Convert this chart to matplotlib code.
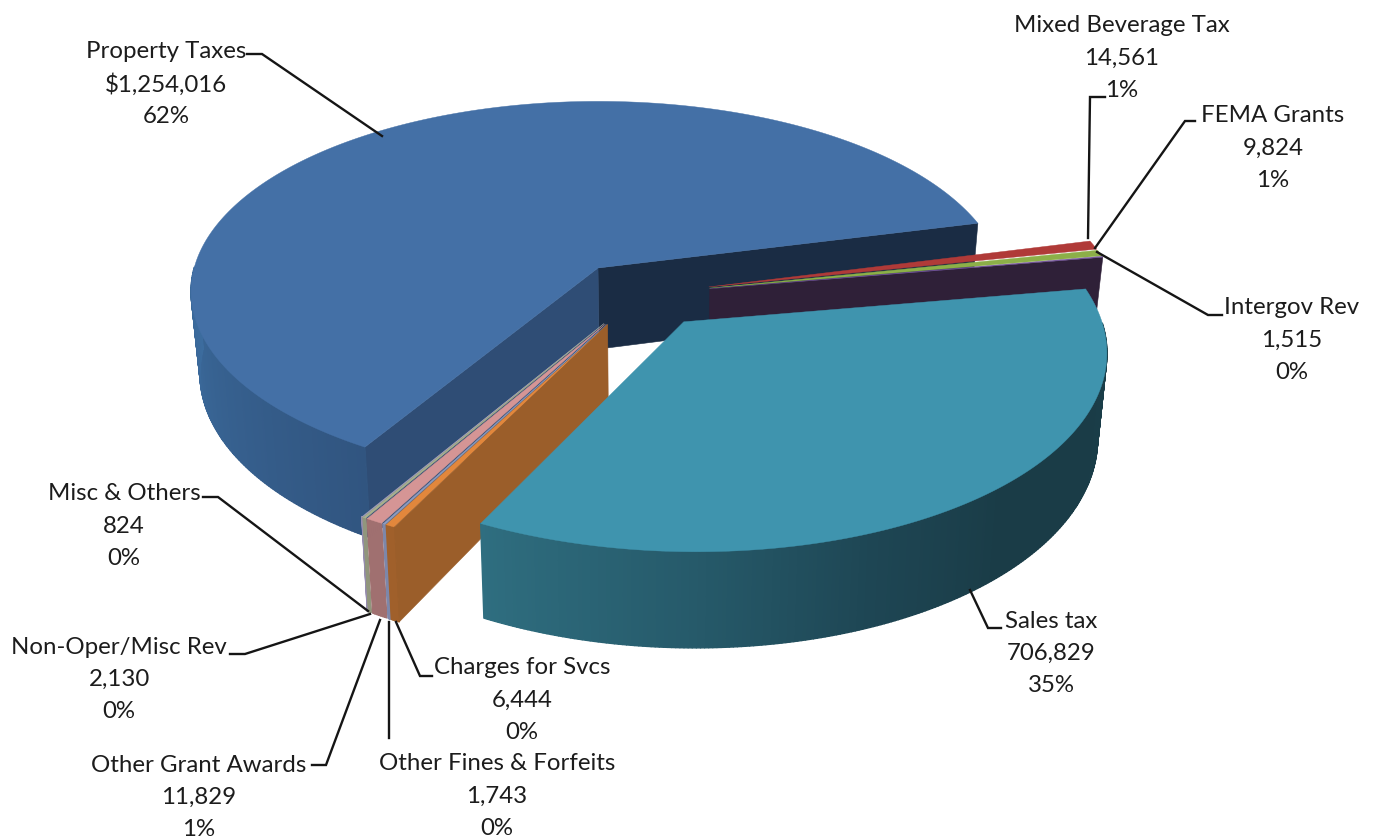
import numpy as np
import matplotlib
matplotlib.use("Agg")
import matplotlib.pyplot as plt
from matplotlib.collections import PolyCollection

plt.rcParams['font.family'] = ['Lato', 'DejaVu Sans']

# =========================
# Data
# =========================

names = ["Property Taxes", "Mixed Beverage Tax", "FEMA Grants", "Intergov Rev", "Sales tax",
         "Charges for Svcs", "Other Fines & Forfeits", "Other Grant Awards", "Non-Oper/Misc Rev", "Misc & Others"]
values = [1254016, 14561, 9824, 1515, 706829, 6444, 1743, 11829, 2130, 824]
value_labels = ["$1,254,016", "14,561", "9,824", "1,515", "706,829", "6,444", "1,743", "11,829", "2,130", "824"]
pct_labels = ["62%", "1%", "1%", "0%", "35%", "0%", "0%", "1%", "0%", "0%"]

# =========================
# Slice colours (RGB 0-255)
# =========================

top_colors = [(68, 112, 166), (176, 58, 56), (140, 175, 72), (112, 80, 150), (63, 148, 174),
              (226, 135, 60), (142, 155, 190), (213, 149, 149), (168, 176, 142), (169, 160, 192)]
# wall shade along the rim: (angle in degrees, colour)
wall_stops = [
    [(180, (60, 108, 158)), (239, (49, 85, 128))],
    [(0, (120, 40, 40)), (15, (120, 40, 40))],
    [(0, (90, 115, 50)), (15, (90, 115, 50))],
    [(0, (47, 32, 56)), (15, (47, 32, 56))],
    [(-117, (47, 110, 128)), (-90, (38, 90, 106)), (-68, (30, 70, 84)), (-48, (26, 60, 71)), (5, (26, 61, 72))],
    [(-125, (160, 96, 43)), (-110, (160, 96, 43))],
    [(-125, (125, 135, 170)), (-110, (125, 135, 170))],
    [(-125, (160, 112, 112)), (-110, (160, 112, 112))],
    [(-125, (145, 150, 125)), (-110, (145, 150, 125))],
    [(-125, (150, 140, 175)), (-110, (150, 140, 175))],
]

# =========================
# Pie geometry
# =========================

total = sum(values)
start_angle = 238.9   # Property Taxes starts here, slices run clockwise
explode = 0.17
radius = 0.985
depth = 81

eye = 8.0
fx, fy = 3280, 1520
x0, y0 = 598, 268
vanish_x = 640
pinch = 0.98

# centre of the unexploded pie, relative to the Property Taxes apex
bis0 = np.radians(start_angle - 360 * values[0] / total / 2)
cu, cv = -explode * np.cos(bis0), explode * np.sin(bis0)


def project(u, v, bottom=False):
    s = 1 / (eye - v)
    x = x0 + fx * u * s
    y = y0 + fy * v * s
    if bottom:
        x = vanish_x + (x - vanish_x) * pinch
        y = y + depth * eye * s
    return np.column_stack([x, y])


def shade(stops, angle):
    a = [p[0] for p in stops]
    c = np.array([p[1] for p in stops], dtype=float)
    return [np.interp(angle, a, c[:, i]) / 255 for i in range(3)]


fig = plt.figure(figsize=(13.79, 8.40), dpi=100)
ax = fig.add_axes([0, 0, 1, 1])
ax.set_xlim(0, 1379)
ax.set_ylim(840, 0)
ax.axis("off")

# angle range of every slice
edges = start_angle - np.cumsum([0] + values) / total * 360
slices = []
for i in range(len(values)):
    a1, a2 = edges[i], edges[i + 1]
    b = np.radians((a1 + a2) / 2)
    au, av = cu + explode * np.cos(b), cv - explode * np.sin(b)
    slices.append((a1, a2, au, av))


def rim(i, n=240):
    a1, a2, au, av = slices[i]
    phi = np.linspace(a1, a2, n)
    r = np.radians(phi)
    return phi, au + radius * np.cos(r), av - radius * np.sin(r)


def draw_face(i, angle, color, z):
    _, _, au, av = slices[i]
    r = np.radians(angle)
    u = np.array([au, au + radius * np.cos(r)])
    v = np.array([av, av - radius * np.sin(r)])
    top, low = project(u, v), project(u, v, True)
    ax.fill(np.r_[top[:, 0], low[::-1, 0]], np.r_[top[:, 1], low[::-1, 1]],
            color=np.array(color) / 255, lw=0.4, zorder=z)


def draw_wall(i, z):
    # wide quads keep the soft vertical banding on the rim
    n = max(8, int(abs(slices[i][1] - slices[i][0]) * 2))
    phi, u, v = rim(i, n)
    top, low = project(u, v), project(u, v, True)
    polys, cols = [], []
    for k in range(len(phi) - 1):
        if np.sin(np.radians(phi[k])) > 0.0:
            continue
        polys.append([top[k], top[k + 1], low[k + 1], low[k]])
        cols.append(shade(wall_stops[i], ((phi[k] + 180) % 360) - 180 if i else phi[k]))
    if polys:
        ax.add_collection(PolyCollection(polys, facecolors=cols, edgecolors=cols, linewidths=1.0, zorder=z))


def draw_top(i, z):
    _, _, au, av = slices[i]
    _, u, v = rim(i)
    p = project(np.r_[au, u], np.r_[av, v])
    ax.fill(p[:, 0], p[:, 1], color=np.array(top_colors[i]) / 255, lw=0.3, zorder=z)


# =========================
# Back to front
# =========================

# Property Taxes with both cut faces
draw_face(0, slices[0][1], (26, 44, 68), 1)
draw_face(0, slices[0][0], (47, 77, 117), 1.1)
draw_wall(0, 1.2)
draw_top(0, 1.3)

# thin slices on the right
draw_face(3, slices[3][1], (47, 32, 56), 2)
for i in [1, 2, 3]:
    draw_top(i, 2.1)

# thin slices at the front, Misc first
z = 3
for i in [9, 8, 7, 6, 5]:
    draw_wall(i, z)
    draw_top(i, z + 0.1)
    z += 0.2
draw_face(5, slices[5][0], (155, 94, 42), z)

# Sales tax last, it sits in front of everything
draw_wall(4, 5)
draw_top(4, 5.1)

# =========================
# Leader lines and labels
# =========================

leaders = [
    [(247, 54), (262, 54), (382, 136)],
    [(1105, 97), (1090, 97), (1088, 238)],
    [(1195, 121), (1185, 121), (1095, 248)],
    [(1222, 315), (1208, 315), (1097, 252)],
    [(970, 590), (988, 628), (1001, 628)],
    [(432, 676), (420, 676), (396, 622)],
    [(389, 738), (389, 622)],
    [(312, 765), (326, 765), (380, 620)],
    [(230, 654), (245, 654), (370, 614)],
    [(203, 497), (218, 497), (368, 611)],
]
label_x = [166, 1122, 1273, 1292, 1051, 522, 497, 199, 119, 124]
label_y = [52, 26, 116, 308, 621, 668, 764, 765, 647, 494]

for pts in leaders:
    xs, ys = zip(*pts)
    ax.plot(xs, ys, color="#151515", lw=1.7, zorder=6, solid_joinstyle="miter")

for i in range(len(names)):
    lines = [names[i], value_labels[i], pct_labels[i]]
    for k, s in enumerate(lines):
        ax.text(label_x[i], label_y[i] + k * 32.3, s, ha="center", va="center",
                fontsize=17.3, color="#1c1c1c", zorder=7)

fig.savefig("out.png", dpi=100)
